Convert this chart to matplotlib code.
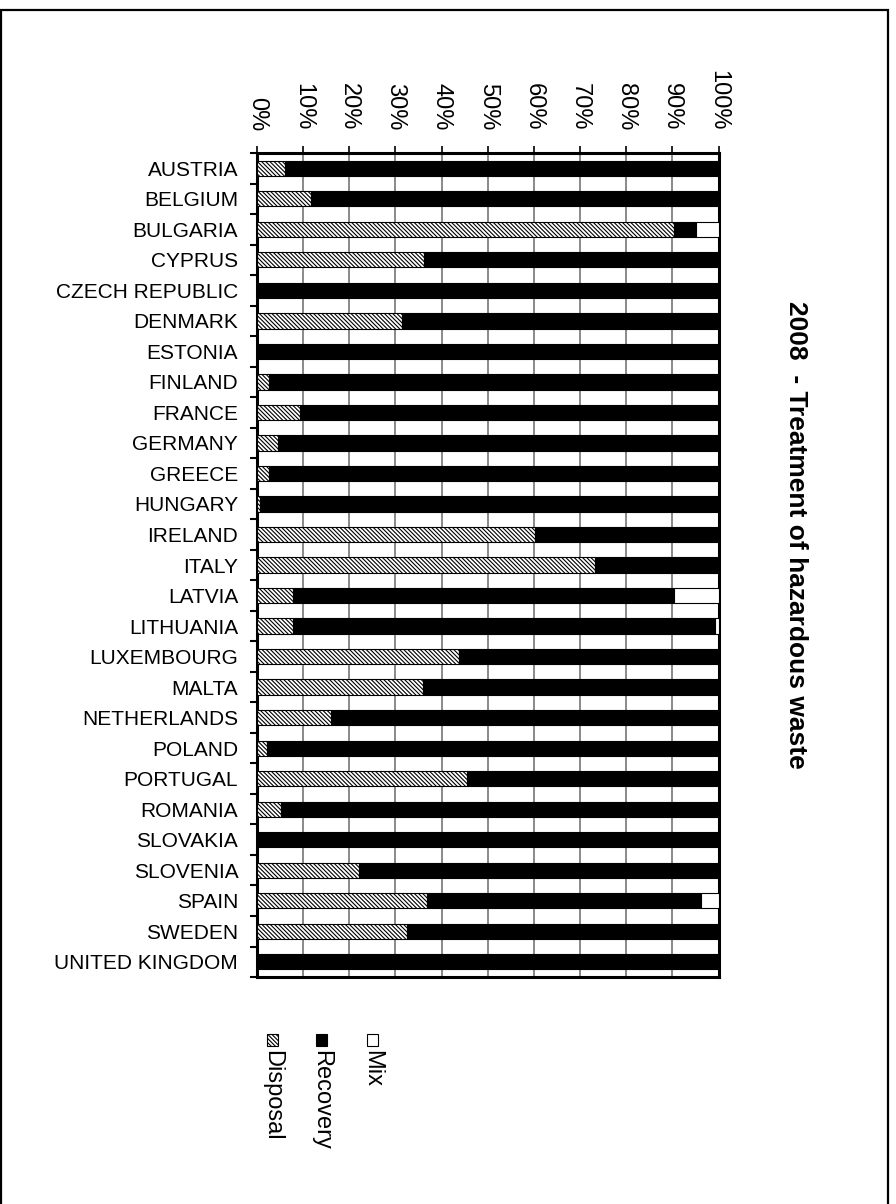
import matplotlib.pyplot as plt
import matplotlib
import numpy as np
from matplotlib.patches import Rectangle

matplotlib.rc('font', family=['Liberation Sans', 'DejaVu Sans'])
matplotlib.rcParams['hatch.linewidth'] = 0.8

countries = ["AUSTRIA", "BELGIUM", "BULGARIA", "CYPRUS", "CZECH REPUBLIC", "DENMARK",
             "ESTONIA", "FINLAND", "FRANCE", "GERMANY", "GREECE", "HUNGARY", "IRELAND",
             "ITALY", "LATVIA", "LITHUANIA", "LUXEMBOURG", "MALTA", "NETHERLANDS",
             "POLAND", "PORTUGAL", "ROMANIA", "SLOVAKIA", "SLOVENIA", "SPAIN", "SWEDEN",
             "UNITED KINGDOM"]
# percentages
disposal = [6.0, 11.6, 90.4, 36.2, 0.0, 31.5, 0.0, 2.7, 9.4, 4.6, 2.7, 0.6, 60.2,
            73.2, 7.9, 7.9, 43.7, 35.9, 16.1, 2.2, 45.6, 5.3, 0.0, 22.1, 36.9, 32.6, 0.0]
recovery = [94.0, 88.4, 4.7, 63.8, 100.0, 68.5, 100.0, 97.3, 90.6, 95.4, 97.3, 99.4, 39.8,
            26.8, 82.5, 91.4, 56.3, 64.1, 83.9, 97.8, 54.4, 94.7, 100.0, 77.9, 59.4, 67.4, 100.0]
mix = [0.0, 0.0, 4.9, 0.0, 0.0, 0.0, 0.0, 0.0, 0.0, 0.0, 0.0, 0.0, 0.0,
       0.0, 9.6, 0.7, 0.0, 0.0, 0.0, 0.0, 0.0, 0.0, 0.0, 0.0, 3.7, 0.0, 0.0]
xticks = [0, 10, 20, 30, 40, 50, 60, 70, 80, 90, 100]

n = len(countries)
pos = np.arange(n)
disposal = np.array(disposal)
recovery = np.array(recovery)
mix = np.array(mix)

HATCH = '\\' * 8

fig = plt.figure(figsize=(8.96, 12.04), dpi=100)
ax = fig.add_axes([0.2868, 0.1885, 0.5151, 0.6844])

ax.barh(pos, disposal, height=0.5, color='white', edgecolor='black',
        hatch=HATCH, linewidth=0.8, zorder=3)
ax.barh(pos, recovery, left=disposal, height=0.5, color='black',
        edgecolor='black', linewidth=0.8, zorder=3)
ax.barh(pos, mix, left=disposal + recovery, height=0.5, color='white',
        edgecolor='black', linewidth=0.8, zorder=3)

ax.set_xlim(0, 100)
ax.set_ylim(n - 0.5, -0.5)

ax.xaxis.tick_top()
ax.set_xticks(xticks)
ax.set_xticklabels([f"{v}%" for v in xticks], rotation=-90, fontsize=17)
ax.tick_params(axis='x', direction='out', length=5, width=1.2, pad=11)

ax.set_yticks(np.arange(n + 1) - 0.5)
ax.set_yticklabels([])
ax.set_yticks(pos, minor=True)
ax.set_yticklabels(countries, minor=True, fontsize=15)
ax.tick_params(axis='y', which='major', direction='out', length=5, width=1.5)
ax.tick_params(axis='y', which='minor', length=0, pad=13.5)

ax.grid(axis='x', color='#808080', linewidth=1.3, zorder=0)
ax.set_axisbelow(True)
for s in ax.spines.values():
    s.set_linewidth(2.2)

fig.text(0.888, 0.556, "2008  - Treatment of hazardous waste", rotation=-90,
         fontsize=19, fontweight='bold', ha='center', va='center')

# rotated legend drawn by hand
W, H = 896.0, 1204.0
items = [("Disposal", 'white', HATCH, 267), ("Recovery", 'black', None, 316),
         ("Mix", 'white', None, 367)]
for name, fc, hatch, x in items:
    fig.patches.append(Rectangle((x / W, 1 - 1046 / H), 11 / W, 12 / H,
                                 transform=fig.transFigure, facecolor=fc,
                                 edgecolor='black', hatch=hatch, linewidth=0.8))
    fig.text((x + 5.5) / W, 1 - 1050 / H, name, rotation=-90, fontsize=17,
             ha='center', va='top')

# outer frame
fig.patches.append(Rectangle((1 / W, -0.01), 887 / W, 1.01 - 10 / H,
                             transform=fig.transFigure, fill=False,
                             edgecolor='black', linewidth=1.6))

fig.savefig("out.png", dpi=100)
